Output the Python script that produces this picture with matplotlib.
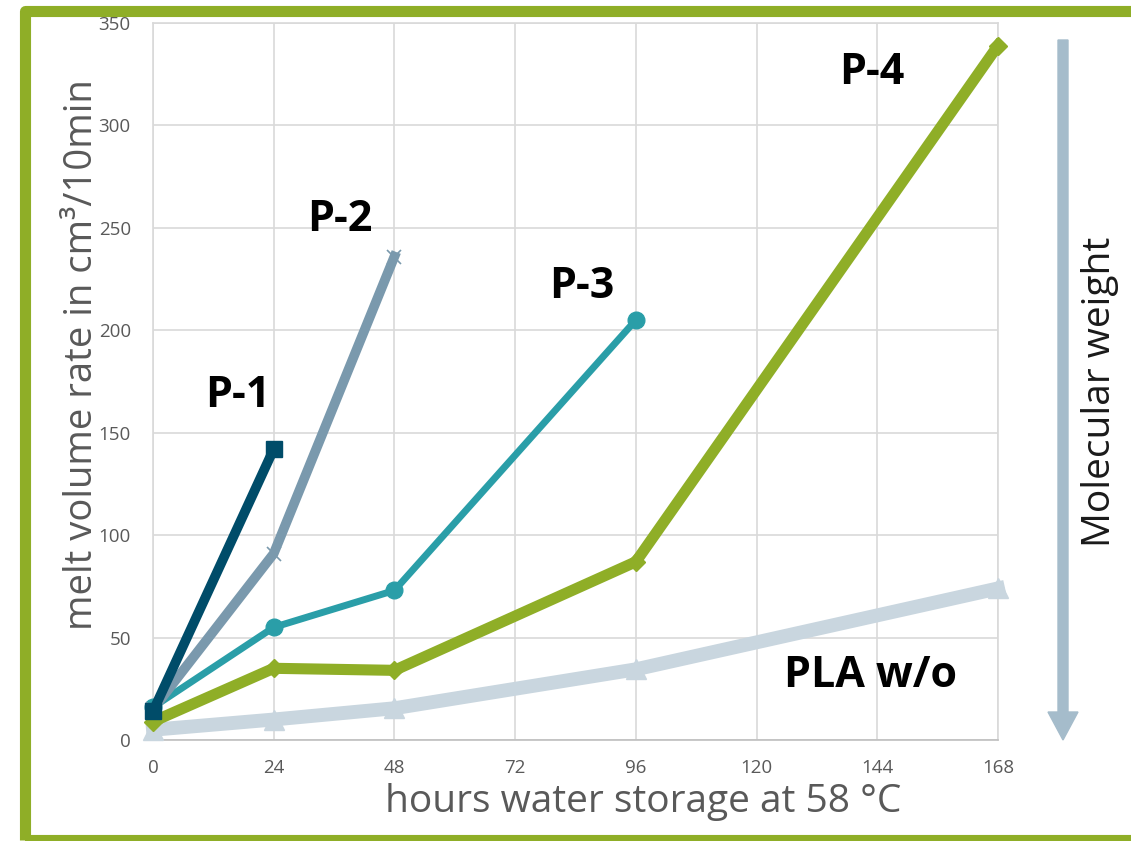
import matplotlib
matplotlib.use("Agg")
import matplotlib.pyplot as plt
from matplotlib.patches import Rectangle, FancyArrow

plt.rcParams['font.family'] = ['Open Sans', 'DejaVu Sans']

hours = [0, 24, 48, 96, 168]
p1 = [14, 142]
p2 = [15, 91, 236]
p3 = [16, 55, 73, 205]
p4 = [9, 35, 34, 87, 339]
pla = [5, 10, 15.5, 34.5, 74]

x_ticks = [0, 24, 48, 72, 96, 120, 144, 168]
y_ticks = [0, 50, 100, 150, 200, 250, 300, 350]

W, H = 1131, 841
fig = plt.figure(figsize=(W / 100, H / 100), dpi=100)
ax = fig.add_axes([153 / W, 1 - 740 / H, (998 - 153) / W, (740 - 23) / H])

grid_c = '#d9d9d9'
ax.set_xlim(0, 168)
ax.set_ylim(0, 350)
ax.set_xticks(x_ticks)
ax.set_yticks(y_ticks)
ax.grid(True, color=grid_c, lw=1.2)
ax.set_axisbelow(True)
for s in ['top', 'right', 'left']:
    ax.spines[s].set_color(grid_c)
    ax.spines[s].set_linewidth(1.2)
ax.spines['bottom'].set_color('#bfbfbf')
ax.spines['bottom'].set_linewidth(1.2)
ax.tick_params(length=0, labelsize=13.5, colors='#595959', pad=14)
ax.tick_params(axis='y', pad=16)

ax.plot(hours[:5], pla, color='#c9d6df', lw=10, marker='^', ms=14, clip_on=False, zorder=3)
ax.plot(hours[:5], p4, color='#8fae27', lw=8, marker='D', ms=9, clip_on=False, zorder=4)
ax.plot(hours[:4], p3, color='#2a9ea8', lw=5, marker='o', ms=12, clip_on=False, zorder=5)
ax.plot(hours[:3], p2, color='#7a99ad', lw=7, marker='x', ms=10, mew=1.2, clip_on=False, zorder=6)
ax.plot(hours[:2], p1, color='#004c69', lw=7, marker='s', ms=12, clip_on=False, zorder=7)

lab = dict(fontsize=31, fontweight='bold', color='black', ha='center', va='center')
ax.text(16.9, 168, 'P-1', **lab)
ax.text(37.2, 254, 'P-2', **lab)
ax.text(85.3, 221.5, 'P-3', **lab)
ax.text(142.9, 326, 'P-4', **lab)
ax.text(142.7, 31.5, 'PLA w/o', **lab)

fig.text(643 / W, 1 - 802 / H, 'hours water storage at 58 °C', fontsize=28,
         color='#595959', ha='center', va='center')
fig.text(82 / W, 1 - 355 / H, 'melt volume rate in cm³/10min', fontsize=27.5,
         color='#595959', ha='center', va='center', rotation=90)

# Arrow for molecular weight
arrow = FancyArrow(1063 / W, 1 - 40 / H, 0, -(740 - 40) / H, width=10 / W,
                   head_width=30 / W, head_length=28 / H, length_includes_head=True,
                   color='#a5bccb', transform=fig.transFigure, figure=fig)
fig.patches.append(arrow)
fig.text(1100 / W, 1 - 392 / H, 'Molecular weight', rotation=90, fontsize=28,
         color='#1a1a1a', ha='center', va='center')

# Green frame
frame = Rectangle((24.5 / W, 1 - 840 / H), (W + 50) / W, (840 - 10.5) / H,
                  transform=fig.transFigure, fill=False, ec='#8fae27', lw=8,
                  joinstyle='round', figure=fig)
fig.patches.append(frame)

fig.savefig('out.png', dpi=100)
